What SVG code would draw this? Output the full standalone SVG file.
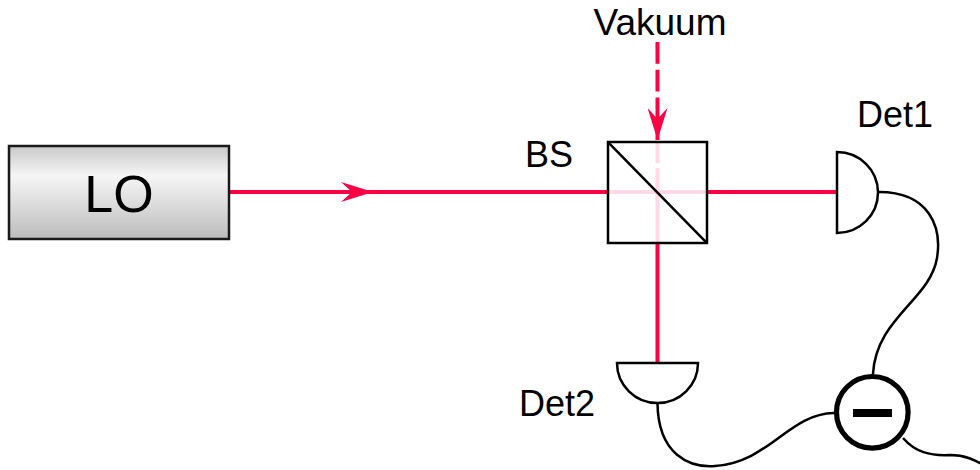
<svg xmlns="http://www.w3.org/2000/svg" width="980" height="470" viewBox="0 0 980 470">
<style>
.beam{fill:none;stroke:#ff0044;stroke-width:4}
.wire{fill:none;stroke:#000;stroke-width:2.5}
.outline{fill:#fff;stroke:#000;stroke-width:2.5}
.lbl{font-family:"Liberation Sans",Arial,sans-serif;font-size:36px;fill:#000}
</style>
<defs>
<linearGradient id="lograd" x1="0" y1="0" x2="0" y2="1">
<stop offset="0" stop-color="#c8c8c8"/>
<stop offset="0.32" stop-color="#f6f6f6"/>
<stop offset="1" stop-color="#bcbcbc"/>
</linearGradient>
<marker id="arr" viewBox="0 0 32 20" refX="32" refY="10" markerWidth="32" markerHeight="20" markerUnits="userSpaceOnUse" orient="auto">
<path d="M0,0 L32,10 L0,20 L11,10 z" fill="#ff0044"/>
</marker>
</defs>
<g id="connectors">
<path class="beam" d="M229,192 L373,192 L608,192" marker-mid="url(#arr)"/>
<path class="beam" d="M608,192 H837"/>
<path class="beam" d="M657.5,142 V163 M657.5,168 V363"/>
<path class="beam" d="M657.5,42 V140" stroke-dasharray="21.7 6" marker-end="url(#arr)"/>
<path class="wire" d="M879,192 C930,192 942,228 937,258 C930,300 876,318 873,374"/>
<path class="wire" d="M657.5,403 C658,455 690,468 715,466 C770,462 788,414 834,413"/>
<path class="wire" d="M903,438 C915,452 930,456 950,455 C965,455 975,460 985,466"/>
</g>
<g id="LO">
<rect x="9" y="146" width="220" height="93" fill="url(#lograd)" stroke="#1a1a1a" stroke-width="2.5"/>
<text class="lbl" x="119" y="212" text-anchor="middle" style="font-size:52px">LO</text>
</g>
<g id="BS">
<rect x="608" y="142" width="99" height="101" fill="#fff" fill-opacity="0.85" stroke="#000" stroke-width="2.5"/>
<line x1="608" y1="142" x2="707" y2="243" stroke="#000" stroke-width="2.5"/>
<text class="lbl" x="525" y="167">BS</text>
</g>
<g id="Vakuum">
<text class="lbl" x="660" y="35" text-anchor="middle" style="font-size:37px">Vakuum</text>
</g>
<g id="Det1">
<path class="outline" d="M837,152 A41,40.5 0 0 1 837,233 Z"/>
<text class="lbl" x="857" y="127">Det1</text>
</g>
<g id="Det2">
<path class="outline" d="M617,363 H698 A40.5,40 0 0 1 617,363 Z"/>
<text class="lbl" x="519" y="416">Det2</text>
</g>
<g id="subtractor">
<circle cx="872.3" cy="412.3" r="35.8" fill="#fff" stroke="#000" stroke-width="5.2"/>
<rect x="853" y="409" width="39" height="8" fill="#000"/>
</g>
</svg>
